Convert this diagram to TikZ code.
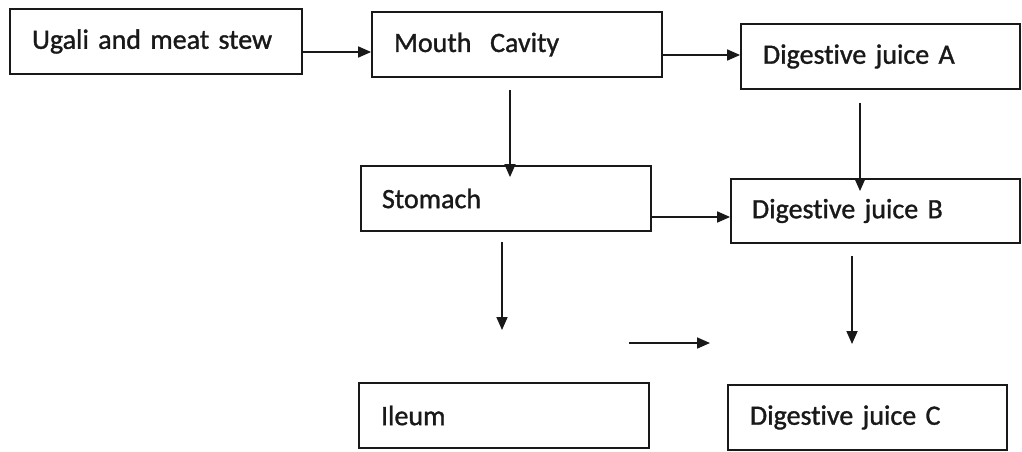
\documentclass[tikz,border=0pt]{standalone}
\usepackage{fontspec}
\setmainfont{Carlito}[Ligatures=NoCommon, FakeBold=1.2]
\usetikzlibrary{arrows.meta}
\tikzset{
  box/.style={draw=black!90, line width=1.8pt, rectangle, inner xsep=22pt, inner ysep=0pt,
    align=left, font=\fontsize{28}{32}\selectfont, text=black!90},
  arr/.style={draw=black!90, line width=1.7pt, -{Triangle[length=13pt,width=11pt]}}
}
\begin{document}
\begin{tikzpicture}[x=1pt,y=-1pt]
\useasboundingbox (0,0) rectangle (1022,451);
\node[box, minimum width=292pt, minimum height=65pt, text width=248pt] (ugali) at (156,41.5) {Ugali and meat stew};
\node[box, minimum width=290pt, minimum height=65pt, text width=246pt] (mouth) at (517,44.5) {Mouth\ \ Cavity};
\node[box, minimum width=279pt, minimum height=65pt, text width=235pt] (juiceA) at (880.5,56.5) {Digestive juice A};
\node[box, minimum width=290pt, minimum height=65pt, text width=248pt, inner xsep=21pt] (stomach) at (506,198.5) {Stomach};
\node[box, minimum width=289pt, minimum height=64pt, text width=247pt, inner xsep=21pt] (juiceB) at (875.5,211) {Digestive juice B};
\node[box, minimum width=290pt, minimum height=65pt, text width=246pt] (ileum) at (504,415.5) {Ileum};
\node[box, minimum width=279pt, minimum height=65pt, text width=235pt] (juiceC) at (867.5,417.5) {Digestive juice C};
\coordinate (s1) at (502,242);
\coordinate (s2) at (502,330);
\coordinate (b1) at (852,256);
\coordinate (b2) at (852,344);
\coordinate (m1) at (629,343);
\coordinate (m2) at (710,343);
\draw[arr] (ugali.east |- 0,52) -- (mouth.west |- 0,52);
\draw[arr] (mouth.east |- 0,55) -- (juiceA.west |- 0,55);
\draw[arr, shorten <=12pt, shorten >=-12pt] (mouth.south -| 510,0) -- (stomach.north -| 510,0);
\draw[arr, shorten <=13pt, shorten >=-13pt] (juiceA.south -| 860,0) -- (juiceB.north -| 860,0);
\draw[arr] (stomach.east |- 0,217) -- (juiceB.west |- 0,217);
\draw[arr] (s1) -- (s2);
\draw[arr] (b1) -- (b2);
\draw[arr] (m1) -- (m2);
\end{tikzpicture}
\end{document}
